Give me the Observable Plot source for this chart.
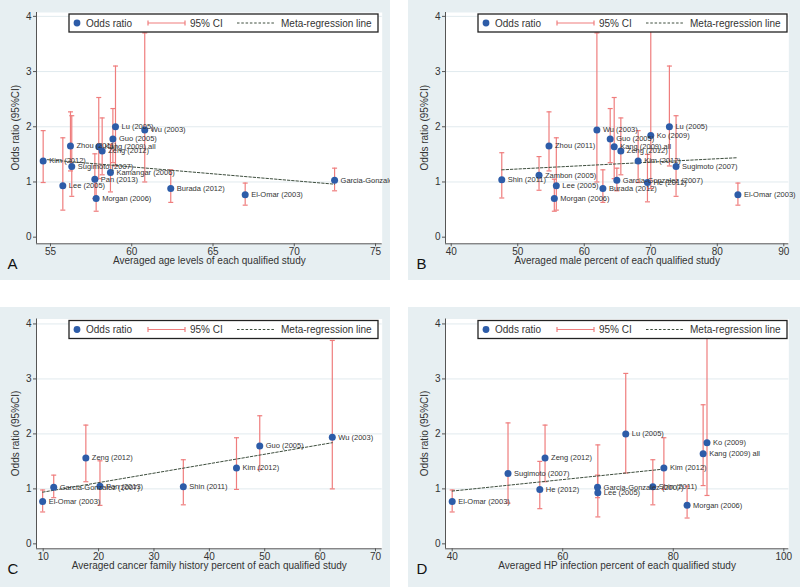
<!DOCTYPE html>
<html><head><meta charset="utf-8">
<script src="https://cdn.jsdelivr.net/npm/d3@7"></script>
<script src="https://cdn.jsdelivr.net/npm/@observablehq/plot@0.6"></script>
<style>
body{margin:0;background:#fff;}
#wrap{position:relative;width:800px;height:587px;overflow:hidden;font-family:"Liberation Sans",Arial,sans-serif;}
#wrap svg{position:absolute;overflow:hidden;}
</style></head><body><div id="wrap"></div>
<script>
// ---- data ----
const studies = ["Wu (2003)", "El-Omar (2003)", "Lu (2005)", "Guo (2005)", "Lee (2005)", "Zambon (2005)", "Morgan (2006)", "Kamangar (2006)", "Garcia-Gonzalez (2007)", "Sugimoto (2007)", "Kang (2009) all", "Ko (2009)", "Zhou (2011)", "Shin (2011)", "Kim (2012)", "Zeng (2012)", "He (2012)", "Burada (2012)", "Pan (2013)"];
const oddsRatio = [1.94, 0.77, 2.00, 1.78, 0.93, 1.12, 0.70, 1.17, 1.03, 1.28, 1.64, 1.84, 1.65, 1.04, 1.38, 1.56, 0.99, 0.88, 1.05];
const ciLow     = [1.00, 0.58, 1.29, 1.35, 0.49, 0.85, 0.47, 0.82, 0.84, 0.74, 1.06, 0.88, 1.20, 0.71, 0.99, 1.13, 0.64, 0.63, 0.70];
const ciHigh    = [3.70, 0.98, 3.10, 2.33, 1.80, 1.46, 1.05, 1.68, 1.25, 2.20, 2.53, 3.85, 2.27, 1.53, 1.93, 2.16, 1.50, 1.22, 1.51];

const ageLevel            = [60.8, 66.98, 59.0, 58.84, 55.76, null, 57.81, 58.69, 72.48, 56.31, 57.97, null, 56.23, null, 54.55, 58.18, null, 62.4, 57.73];
const malePercent         = [61.9, 83.1, 72.8, 63.9, 55.8, 53.2, 55.5, null, 64.9, 73.8, 64.5, 70.0, 54.7, 47.6, 68.1, 65.5, 69.5, 62.8, null];
const familyHistoryPercent= [62.2, 9.9, null, 49.1, null, null, null, null, 11.9, null, null, null, null, 35.3, 44.9, 17.7, null, null, 20.25];
const hpInfectionPercent  = [null, 40.0, 71.4, null, 66.35, null, 82.5, null, 66.3, 50.1, 85.4, 86.1, null, 76.3, 78.3, 56.8, 55.85, null, null];

// meta-regression fitted line end points
const regAgeX = [54.55, 72.48],   regAgeY = [1.41, 0.96];
const regMaleX = [47.6, 83.1],    regMaleY = [1.22, 1.44];
const regFamilyX = [9.9, 62.2],   regFamilyY = [0.94, 1.84];
const regHpX = [40.0, 78.3],      regHpY = [0.96, 1.36];

const ageTicks = [55, 60, 65, 70, 75];
const maleTicks = [40, 50, 60, 70, 80, 90];
const familyTicks = [10, 20, 30, 40, 50, 60, 70];
const hpTicks = [40, 60, 80, 100];
const orTicks = [0, 1, 2, 3, 4];
const gridTicks = [1, 2, 3, 4];

const legendLabels = ["Odds ratio", "95% CI", "Meta-regression line"];
const yTitle = "Odds ratio (95%CI)";

// ---- style ----
const BG = "#e7eff2", GRID = "#e1eaee", AXIS = "#555", TXT = "#333";
const BLUE = "#2d5ca8", RED = "#ef7d7d", REG = "#3e4e3e";
const FONT = "'Liberation Sans', Arial, sans-serif";

const capSymbol = {draw(ctx) { ctx.moveTo(-2.5, 0); ctx.lineTo(2.5, 0); }};

function legendMark(index, scales, values, dims) {
  const g = d3.create("svg:g").attr("font-family", FONT).attr("font-size", 10).attr("fill", TXT).attr("text-anchor", "start");
  const x0 = dims.marginLeft + 33, y0 = dims.marginTop + 2, w = 309, h = 18, cy = y0 + h / 2;
  g.append("rect").attr("x", x0).attr("y", y0).attr("width", w).attr("height", h)
    .attr("fill", "white").attr("stroke", "#222").attr("stroke-width", 1.3);
  g.append("circle").attr("cx", x0 + 8).attr("cy", cy).attr("r", 3.4).attr("fill", BLUE);
  g.append("text").attr("x", x0 + 17).attr("y", cy).attr("dy", "0.35em").text(legendLabels[0]);
  g.append("line").attr("x1", x0 + 79).attr("x2", x0 + 116).attr("y1", cy).attr("y2", cy).attr("stroke", RED).attr("stroke-width", 1.2);
  for (const xx of [x0 + 79, x0 + 116])
    g.append("line").attr("x1", xx).attr("x2", xx).attr("y1", cy - 2.5).attr("y2", cy + 2.5).attr("stroke", RED).attr("stroke-width", 1.2);
  g.append("text").attr("x", x0 + 121).attr("y", cy).attr("dy", "0.35em").text(legendLabels[1]);
  g.append("line").attr("x1", x0 + 168).attr("x2", x0 + 205).attr("y1", cy).attr("y2", cy).attr("stroke", REG).attr("stroke-width", 1).attr("stroke-dasharray", "2.5,1.8");
  g.append("text").attr("x", x0 + 212).attr("y", cy).attr("dy", "0.35em").text(legendLabels[2]);
  // y-axis title
  const cyMid = (dims.marginTop + dims.height - dims.marginBottom) / 2;
  g.append("text").attr("transform", `translate(${dims.marginLeft - 21},${cyMid}) rotate(-90)`)
    .attr("text-anchor", "middle").attr("dy", "0.35em").text(yTitle);
  return g.node();
}

function makePanel(cfg) {
  const rows = studies.map((s, i) => ({study: s, x: cfg.xs[i], or: oddsRatio[i], lo: ciLow[i], hi: ciHigh[i]}))
    .filter(d => d.x != null);
  const reg = cfg.regX.map((x, i) => ({x, y: cfg.regY[i]}));
  const svg = Plot.plot({
    width: cfg.width, height: cfg.height,
    marginLeft: cfg.mL, marginRight: cfg.mR, marginTop: cfg.mT, marginBottom: cfg.mB,
    style: {background: BG, fontFamily: FONT, fontSize: "10px", color: TXT, overflow: "hidden"},
    x: {domain: cfg.xDomain},
    y: {domain: cfg.yDomain},
    marks: [
      Plot.frame({fill: "white", stroke: null}),
      Plot.ruleY(gridTicks, {stroke: GRID, strokeWidth: 1}),
      Plot.ruleY([cfg.yDomain[0]], {stroke: AXIS, strokeWidth: 1}),
      Plot.ruleX([cfg.xDomain[0]], {stroke: AXIS, strokeWidth: 1}),
      Plot.axisX(cfg.ticks, {tickSize: 3, tickPadding: 1, fontSize: 10, fill: TXT, stroke: AXIS, label: null, tickFormat: d => String(d)}),
      Plot.axisY(orTicks, {tickSize: 3, tickPadding: 2, fontSize: 10, fill: TXT, stroke: AXIS, label: null, tickFormat: d => String(d)}),
      Plot.ruleX(rows, {x: "x", y1: "lo", y2: "hi", stroke: RED, strokeWidth: 1.2}),
      Plot.dot(rows, {x: "x", y: "hi", symbol: capSymbol, fill: "none", stroke: RED, strokeWidth: 1.2}),
      Plot.dot(rows, {x: "x", y: "lo", symbol: capSymbol, fill: "none", stroke: RED, strokeWidth: 1.2}),
      Plot.line(reg, {x: "x", y: "y", stroke: REG, strokeWidth: 1, strokeDasharray: "2.5,1.8"}),
      Plot.dot(rows, {x: "x", y: "or", r: 3.5, fill: BLUE, stroke: "none"}),
      Plot.text(rows, {x: "x", y: "or", text: "study", dx: 6, textAnchor: "start", fontSize: 7.5, fill: TXT}),
      legendMark,
      Plot.text([cfg.xLabel], {frameAnchor: "bottom", dy: 20, fontSize: 10, fill: TXT}),
      Plot.text([cfg.letter], {frameAnchor: "bottom-left", dx: cfg.letterDx, dy: 25, fontSize: 15, fill: "#111", textAnchor: "start"})
    ]
  });
  svg.style.left = cfg.left + "px";
  svg.style.top = cfg.top + "px";
  document.getElementById("wrap").appendChild(svg);
}

makePanel({left: 0, top: 0, width: 390, height: 280, mL: 36, mR: 8.3, mT: 12, mB: 36.7,
  xDomain: [54.14, 75.41], yDomain: [-0.12, 4.07], ticks: ageTicks, xs: ageLevel,
  regX: regAgeX, regY: regAgeY, xLabel: "Averaged age levels of each qualified study", letter: "A", letterDx: -29});
makePanel({left: 408, top: 0, width: 392, height: 280, mL: 37, mR: 11.7, mT: 12, mB: 36.7,
  xDomain: [39.14, 90.75], yDomain: [-0.12, 4.07], ticks: maleTicks, xs: malePercent,
  regX: regMaleX, regY: regMaleY, xLabel: "Averaged male percent of each qualified study", letter: "B", letterDx: -29});
makePanel({left: 0, top: 307, width: 390, height: 280, mL: 36, mR: 8.3, mT: 11.5, mB: 38.7,
  xDomain: [8.79, 71.21], yDomain: [-0.09, 4.09], ticks: familyTicks, xs: familyHistoryPercent,
  regX: regFamilyX, regY: regFamilyY, xLabel: "Averaged cancer family history percent of each qualified study", letter: "C", letterDx: -29});
makePanel({left: 408, top: 307, width: 392, height: 280, mL: 37, mR: 11.7, mT: 11.5, mB: 38.7,
  xDomain: [38.79, 100.9], yDomain: [-0.09, 4.09], ticks: hpTicks, xs: hpInfectionPercent,
  regX: regHpX, regY: regHpY, xLabel: "Averaged HP infection percent of each qualified study", letter: "D", letterDx: -29});
</script></body></html>
